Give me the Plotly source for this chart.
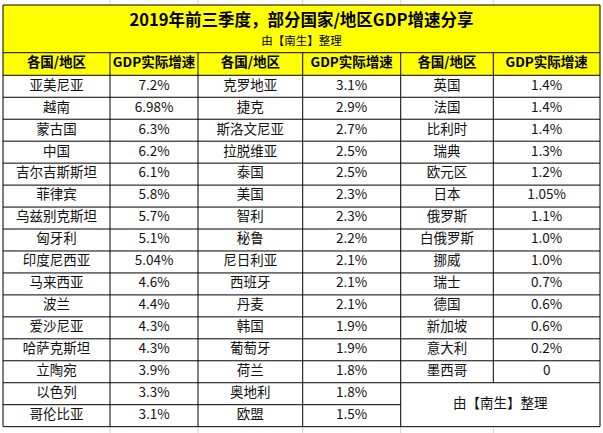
import plotly.graph_objects as go

title = "2019年前三季度，部分国家/地区GDP增速分享"
subtitle = "由【南生】整理"
header = ["各国/地区", "GDP实际增速"]

group1_names = ["亚美尼亚", "越南", "蒙古国", "中国", "吉尔吉斯斯坦", "菲律宾", "乌兹别克斯坦", "匈牙利",
                "印度尼西亚", "马来西亚", "波兰", "爱沙尼亚", "哈萨克斯坦", "立陶宛", "以色列", "哥伦比亚"]
group1_growth = [7.2, 6.98, 6.3, 6.2, 6.1, 5.8, 5.7, 5.1, 5.04, 4.6, 4.4, 4.3, 4.3, 3.9, 3.3, 3.1]

group2_names = ["克罗地亚", "捷克", "斯洛文尼亚", "拉脱维亚", "泰国", "美国", "智利", "秘鲁",
                "尼日利亚", "西班牙", "丹麦", "韩国", "葡萄牙", "荷兰", "奥地利", "欧盟"]
group2_growth = [3.1, 2.9, 2.7, 2.5, 2.5, 2.3, 2.3, 2.2, 2.1, 2.1, 2.1, 1.9, 1.9, 1.8, 1.8, 1.5]

group3_names = ["英国", "法国", "比利时", "瑞典", "欧元区", "日本", "俄罗斯",
                "白俄罗斯", "挪威", "瑞士", "德国", "新加坡", "意大利", "墨西哥"]
group3_growth = [1.4, 1.4, 1.4, 1.3, 1.2, 1.05, 1.1, 1.0, 1.0, 0.7, 0.6, 0.6, 0.2, 0]

# layout (pixels of the sheet)
W, H = 603, 433
col_edges = [3, 110, 198, 302.7, 400.7, 493.3, 600]
top, header_top, header_bottom = 5, 52.7, 75.3
row_h = 21.96
n_rows = 16
bottom = header_bottom + n_rows * row_h
font = "Noto Sans CJK SC, Microsoft YaHei, sans-serif"
ink = "#111111"


def fmt(v):
    return "0" if v == 0 else f"{v}%"


def row_mid(i):
    return header_bottom + (i + 0.5) * row_h


def col_mid(j):
    return (col_edges[j] + col_edges[j + 1]) / 2


fig = go.Figure()

shapes = []
# yellow title + header band
shapes.append(dict(type="rect", x0=col_edges[0], x1=col_edges[-1], y0=top, y1=header_bottom,
                   fillcolor="#FFFF00", line_width=0, layer="below"))

# faint sheet gridlines outside the table
for x in col_edges[1:-1]:
    for y0, y1 in [(0, top), (bottom, H)]:
        shapes.append(dict(type="line", x0=x, x1=x, y0=y0, y1=y1,
                           line=dict(color="#d4d4d4", width=1)))

line = dict(color="#000000", width=1)
# outer border
shapes.append(dict(type="rect", x0=col_edges[0], x1=col_edges[-1], y0=top, y1=bottom, line=line))
# header row lines
shapes.append(dict(type="line", x0=col_edges[0], x1=col_edges[-1], y0=header_top, y1=header_top, line=line))
shapes.append(dict(type="line", x0=col_edges[0], x1=col_edges[-1], y0=header_bottom, y1=header_bottom, line=line))
# body row lines
last3 = len(group3_names)
for i in range(1, n_rows):
    y = header_bottom + i * row_h
    x_end = col_edges[-1] if i <= last3 else col_edges[4]
    shapes.append(dict(type="line", x0=col_edges[0], x1=x_end, y0=y, y1=y, line=line))
# vertical lines
for j, x in enumerate(col_edges[1:-1], start=1):
    y_end = bottom if j != 5 else header_bottom + last3 * row_h
    shapes.append(dict(type="line", x0=x, x1=x, y0=header_top, y1=y_end, line=line))

fig.update_layout(shapes=shapes)

# header text
hx, hy, ht = [], [], []
for j in range(6):
    hx.append(col_mid(j))
    hy.append((header_top + header_bottom) / 2)
    ht.append(f"<b>{header[j % 2]}</b>")
fig.add_trace(go.Scatter(x=hx, y=hy, text=ht, mode="text", textposition="middle center",
                         textfont=dict(family=font, size=13.5, color="#000000"), hoverinfo="skip"))

# body text
bx, by, bt = [], [], []
for g, (names, vals) in enumerate([(group1_names, group1_growth),
                                   (group2_names, group2_growth),
                                   (group3_names, group3_growth)]):
    for i, (n, v) in enumerate(zip(names, vals)):
        bx += [col_mid(2 * g), col_mid(2 * g + 1)]
        by += [row_mid(i), row_mid(i)]
        bt += [n, fmt(v)]
# merged note cell
bx.append((col_edges[4] + col_edges[6]) / 2)
by.append(header_bottom + (last3 + 1) * row_h)
bt.append(subtitle)
fig.add_trace(go.Scatter(x=bx, y=by, text=bt, mode="text", textposition="middle center",
                         textfont=dict(family=font, size=13.5, color=ink), hoverinfo="skip"))

# title
fig.add_trace(go.Scatter(x=[(col_edges[0] + col_edges[-1]) / 2] * 2, y=[22, 42],
                         text=[f"<b>{title}</b>", subtitle], mode="text", textposition="middle center",
                         textfont=dict(family=font, size=[16.5, 11.5], color="#000000"), hoverinfo="skip"))

fig.update_layout(
    width=W, height=H, margin=dict(l=0, r=0, t=0, b=0),
    paper_bgcolor="white", plot_bgcolor="white", showlegend=False,
    xaxis=dict(range=[0, W], visible=False, fixedrange=True),
    yaxis=dict(range=[H, 0], visible=False, fixedrange=True),
)

# the page's default body margin would push the sheet off the window
fig.write_html("out.html", config={"displayModeBar": False},
               post_script="document.body.style.margin='0';document.body.style.overflow='hidden';")
